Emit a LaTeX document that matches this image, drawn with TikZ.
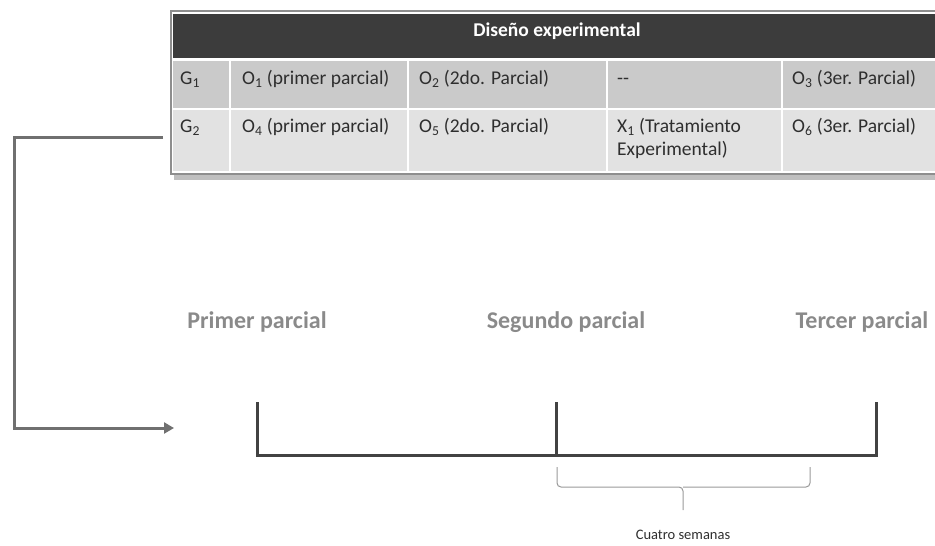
\documentclass[tikz,border=0pt]{standalone}
\usepackage{fontspec}
\setmainfont{Carlito}
\usetikzlibrary{arrows.meta}
\definecolor{hdr}{HTML}{3C3C3C}
\definecolor{rowa}{HTML}{CACACA}
\definecolor{rowb}{HTML}{E2E2E2}
\definecolor{txt}{HTML}{2E2E2E}
\definecolor{lbl}{HTML}{8A8A8A}
\definecolor{conn}{HTML}{707070}
\definecolor{tline}{HTML}{424242}
\definecolor{frame}{HTML}{8E8E8E}
\tikzset{
  cell/.style={anchor=north west, inner sep=0pt, font=\fontsize{19.5}{23}\selectfont, text=txt, align=left,
    execute at begin node={\vphantom{(}}},
  plabel/.style={inner sep=0pt, font=\fontsize{24}{26}\selectfont\bfseries, text=lbl},
  sep/.style={draw=white, line width=2pt},
  tick/.style={draw=tline, line width=3pt},
}
\begin{document}
\begin{tikzpicture}[x=1pt,y=-1pt]
\useasboundingbox (0,0) rectangle (935,546);
% table shadow and frame
\fill[black!25] (174,14) rectangle (937,180);
\fill[white] (170,10) rectangle (935,175);
\draw[frame, line width=2pt] (171,11) rectangle (936,174);
% header
\fill[hdr] (173,14) rectangle (935,58);
\node[inner sep=0pt, font=\fontsize{19.5}{22}\selectfont\bfseries, text=white] (head) at (557,31) {Diseño experimental};
% rows
\fill[rowa] (173,61) rectangle (935,108);
\fill[rowb] (173,110) rectangle (935,171);
\draw[sep] (173,59.5) -- (935,59.5);
\draw[sep] (173,109) -- (935,109);
\foreach \cx in {230,408,607,782} \draw[sep] (\cx,61) -- (\cx,171);
% row 1
\node[cell] (g1) at (180,70) {G\textsubscript{1}};
\node[cell] (o1) at (242,70) {O\textsubscript{1} (primer parcial)};
\node[cell] (o2) at (419,70) {O\textsubscript{2} (2do. Parcial)};
\node[cell] (nx) at (617,70) {-{}-};
\node[cell] (o3) at (792,70) {O\textsubscript{3} (3er. Parcial)};
% row 2
\node[cell] (g2) at (180,118) {G\textsubscript{2}};
\node[cell] (o4) at (242,118) {O\textsubscript{4} (primer parcial)};
\node[cell] (o5) at (419,118) {O\textsubscript{5} (2do. Parcial)};
\node[cell] (x1) at (617,118) {X\textsubscript{1} (Tratamiento\\Experimental)};
\node[cell] (o6) at (792,118) {O\textsubscript{6} (3er. Parcial)};
% connector
\coordinate (cstart) at (163,137);
\coordinate (cend) at (174,428);
\draw[conn, line width=3pt, -{Triangle[length=10pt,width=11pt]}] (cstart) -- (14,137) -- (14,428) -- (cend);
% labels
\node[plabel] (p1) at (257,322) {Primer parcial};
\node[plabel] (p2) at (566,322) {Segundo parcial};
\node[plabel] (p3) at (862,322) {Tercer parcial};
% timeline
\coordinate (t1) at (257,402);
\coordinate (t2) at (556,402);
\coordinate (t3) at (876,402);
\draw[tick] (t1) -- (257,455) -- (876,455) -- (t3);
\draw[tick] (t2) -- (556,455);
% brace
\coordinate (bl) at (557,467);
\coordinate (br) at (810,467);
\coordinate (bt) at (683,510);
\draw[black!40, line width=1pt, rounded corners=4pt] (bl) |- (683,487) -- (bt);
\draw[black!40, line width=1pt, rounded corners=4pt] (br) |- (683,487);
\node[inner sep=0pt, font=\fontsize{14.5}{16}\selectfont, text=txt] (cs) at (683,535) {Cuatro semanas};
\end{tikzpicture}
\end{document}
